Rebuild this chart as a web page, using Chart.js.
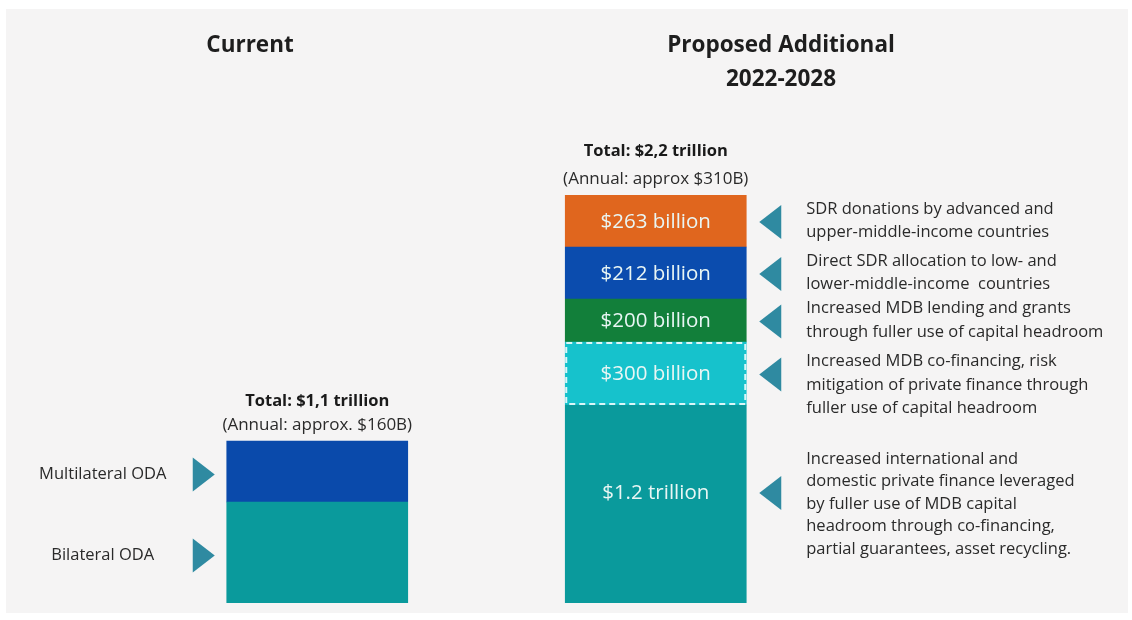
<!DOCTYPE html>
<html>
<head>
<meta charset="utf-8">
<script src="https://cdn.jsdelivr.net/npm/chart.js@4"></script>
<style>
  html, body { margin:0; padding:0; background:#ffffff; }
  #wrap { width:1132px; height:620px; position:relative; }
</style>
</head>
<body>
<div id="wrap"><canvas id="c" width="1132" height="620"></canvas></div>
<script>
// data (segment sizes are the drawn bar heights, bottom to top)
const categories = ['Current', 'Proposed Additional'];
const currentNames = ['Bilateral ODA', 'Multilateral ODA'];
const currentSizes = [101, 61];
const proposedLabels = ['$1.2 trillion', '$300 billion', '$200 billion', '$212 billion', '$263 billion'];
const proposedSizes = [198, 63, 43, 52, 52];
const proposedNotes = [
  ['Increased international and', 'domestic private finance leveraged', 'by fuller use of MDB capital', 'headroom through co-financing,', 'partial guarantees, asset recycling.'],
  ['Increased MDB co-financing, risk', 'mitigation of private finance through', 'fuller use of capital headroom'],
  ['Increased MDB lending and grants', 'through fuller use of capital headroom'],
  ['Direct SDR allocation to low- and', 'lower-middle-income  countries'],
  ['SDR donations by advanced and', 'upper-middle-income countries']
];
const totalTitles = ['Total: $1,1 trillion', 'Total: $2,2 trillion'];
const totalSubs = ['(Annual: approx. $160B)', '(Annual: approx $310B)'];
const yMax = 408;

const currentColors = ['#0a9a9c', '#0a4aab'];
const proposedColors = ['#0a9a9c', '#16c2cc', '#127f3a', '#0b4cae', '#e0661e'];
const arrowColor = '#2f8aa1';
const FONT = '"Open Sans", "Noto Sans", sans-serif';

const datasets = [];
currentSizes.forEach((v, i) => datasets.push({ label: currentNames[i], data: [v, null], backgroundColor: currentColors[i], group: 'current', idx: i }));
proposedSizes.forEach((v, i) => datasets.push({ label: proposedLabels[i], data: [null, v], backgroundColor: proposedColors[i], group: 'proposed', idx: i }));

const decor = {
  id: 'decor',
  beforeDraw(chart){
    const ctx = chart.ctx;
    ctx.save();
    ctx.fillStyle = '#f5f4f4';
    ctx.fillRect(6, 9, 1122, 604);
    ctx.restore();
  },
  afterDatasetsDraw(chart){
    const ctx = chart.ctx;
    const y = chart.scales.y;
    ctx.save();
    ctx.textBaseline = 'middle';

    // headings
    ctx.fillStyle = '#1e1e1e';
    ctx.textAlign = 'center';
    ctx.font = 'bold 22.5px ' + FONT;
    ctx.fillText('Current', 250, 46);
    ctx.fillText('Proposed Additional', 781, 46);
    ctx.fillText('2022-2028', 781, 80);

    const tri = (x, cy, dir) => {
      ctx.fillStyle = arrowColor;
      ctx.beginPath();
      if(dir > 0){ ctx.moveTo(x, cy - 17); ctx.lineTo(x + 22, cy); ctx.lineTo(x, cy + 17); }
      else { ctx.moveTo(x + 22, cy - 17); ctx.lineTo(x, cy); ctx.lineTo(x + 22, cy + 17); }
      ctx.closePath();
      ctx.fill();
    };

    chart.data.datasets.forEach((ds, di) => {
      const el = chart.getDatasetMeta(di).data[ds.group === 'current' ? 0 : 1];
      if(!el) return;
      const left = el.x - el.width / 2, right = el.x + el.width / 2;
      const top = Math.min(el.y, el.base), bot = Math.max(el.y, el.base);
      const mid = (top + bot) / 2;
      if(ds.group === 'current'){
        tri(left - 34, mid + 3, 1);
        ctx.fillStyle = '#2a2a2a';
        ctx.textAlign = 'center';
        ctx.font = '16.5px ' + FONT;
        ctx.fillText(ds.label, left - 124, mid + 3);
      } else {
        const labY = (bot - top) > 150 ? mid - 11 : mid + 1;
        if(ds.idx === 1){
          ctx.strokeStyle = 'rgba(255,255,255,0.85)';
          ctx.lineWidth = 2;
          ctx.setLineDash([6, 4]);
          ctx.strokeRect(left + 1, top + 1, el.width - 2, bot - top - 2);
          ctx.setLineDash([]);
        }
        ctx.fillStyle = '#e9f6f4';
        ctx.textAlign = 'center';
        ctx.font = '20.5px ' + FONT;
        ctx.fillText(ds.label, el.x, labY);
        tri(right + 13, labY, -1);
        const lines = proposedNotes[ds.idx];
        const lh = lines.length > 3 ? 22.5 : 23.5;
        ctx.fillStyle = '#2a2a2a';
        ctx.textAlign = 'left';
        ctx.font = '16.5px ' + FONT;
        const y0 = lines.length > 3 ? mid - (lines.length - 1) * lh / 2 : labY - 13;
        lines.forEach((t, k) => ctx.fillText(t, right + 60, y0 + k * lh));
      }
    });

    // totals above each bar
    const sums = [currentSizes.reduce((a, b) => a + b, 0), proposedSizes.reduce((a, b) => a + b, 0)];
    sums.forEach((s, i) => {
      const topPx = y.getPixelForValue(s);
      const cx = chart.scales.x.getPixelForValue(i);
      ctx.textAlign = 'center';
      ctx.fillStyle = '#1a1a1a';
      ctx.font = 'bold 16.5px ' + FONT;
      ctx.fillText(totalTitles[i], cx, topPx - (i === 0 ? 40 : 44));
      ctx.fillStyle = '#2a2a2a';
      ctx.font = '17px ' + FONT;
      ctx.fillText(totalSubs[i], cx, topPx - 16);
    });
    ctx.restore();
  }
};

new Chart(document.getElementById('c'), {
  type: 'bar',
  data: { labels: categories, datasets: datasets },
  options: {
    responsive: false,
    animation: false,
    layout: { padding: { left: 148, right: 307, top: 195, bottom: 17 } },
    plugins: { legend: { display: false }, tooltip: { enabled: false }, title: { display: false } },
    datasets: { bar: { barThickness: 181, borderWidth: 0 } },
    scales: {
      x: { stacked: true, display: false },
      y: { stacked: true, display: false, min: 0, max: yMax }
    }
  },
  plugins: [decor]
});
</script>
</body>
</html>
